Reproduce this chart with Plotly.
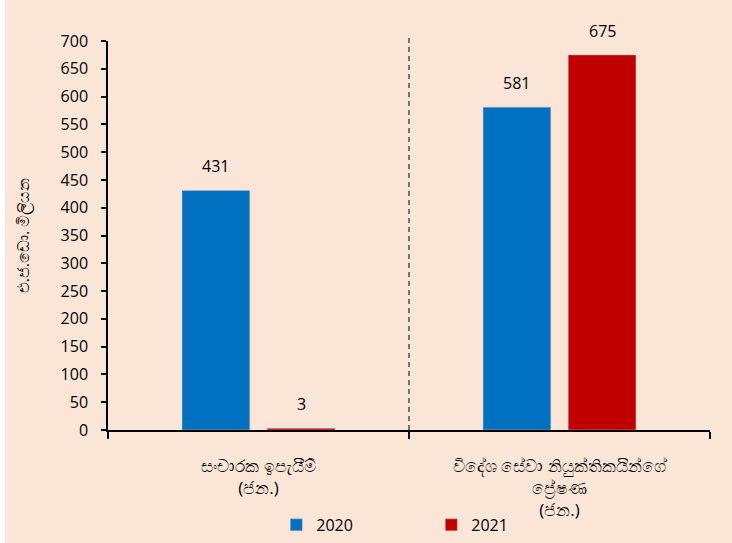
import plotly.graph_objects as go

categories = ["සංචාරක ඉපැයීම්<br>(ජන.)", "විදේශ සේවා නියුක්තිකයින්ගේ<br>ප්‍රේෂණ<br>(ජන.)"]
values_2020 = [431, 581]
values_2021 = [3, 675]
y_title = "එ.ජ.ඩො. මිලියන"

W, H = 732, 543
ml, mr, mt, mb = 108, 22, 41, 113
bg = "#FBE5D6"
font_family = "Open Sans, Noto Sans, sans-serif"

fig = go.Figure()
fig.add_trace(go.Bar(name="2020", x=categories, y=values_2020,
                     marker=dict(color="#0070C0", line=dict(color="#BFBFBF", width=0.5))))
fig.add_trace(go.Bar(name="2021", x=categories, y=values_2021,
                     marker=dict(color="#C00000", line=dict(color="#BFBFBF", width=0.5))))

# data labels above the bars
for shift, vals in ((-42.75, values_2020), (42.75, values_2021)):
    for c, v in zip(categories, vals):
        fig.add_annotation(x=c, y=v, text=str(v), showarrow=False, xshift=shift, yshift=24,
                           font=dict(size=16, color="black"))

pw = W - ml - mr
ph = H - mt - mb
# thin white strips at top and left of the page
fig.add_shape(type="rect", xref="paper", yref="paper",
              x0=-ml / pw, x1=(W - ml) / pw, y0=(H - mt - 5) / ph, y1=(H - mt + 2) / ph,
              fillcolor="white", line=dict(width=0), layer="below")
fig.add_shape(type="rect", xref="paper", yref="paper",
              x0=(-ml - 2) / pw, x1=(5 - ml) / pw, y0=(-mb - 2) / ph, y1=(H - mt + 2) / ph,
              fillcolor="white", line=dict(width=0), layer="below")
# dashed divider
fig.add_shape(type="line", xref="x", yref="paper", x0=0.5, x1=0.5, y0=0, y1=1.008,
              line=dict(color="black", width=1, dash="5px,4px"))

fig.update_layout(
    width=W, height=H,
    margin=dict(l=ml, r=mr, t=mt, b=mb, autoexpand=False),
    paper_bgcolor=bg, plot_bgcolor=bg,
    barmode="group", bargap=0.434, bargroupgap=0.205,
    font=dict(family=font_family, size=16, color="black"),
    showlegend=True,
    legend=dict(orientation="h", x=0.537, xanchor="center", y=-0.244, yanchor="middle",
                font=dict(size=16), entrywidth=110, bgcolor="rgba(0,0,0,0)"),
    xaxis=dict(showline=True, linecolor="black", linewidth=1.5, ticks="outside",
               tickson="boundaries", ticklen=7, tickwidth=1.5, tickcolor="black",
               tickfont=dict(size=17), showgrid=False, range=[-0.5, 1.5],
               ticklabelstandoff=20),
    yaxis=dict(range=[0, 700], dtick=50, showline=True, linecolor="black", linewidth=1.5,
               ticks="outside", ticklen=5, tickwidth=1.5, tickcolor="black", showgrid=False,
               zeroline=False, tickfont=dict(size=16), ticklabelstandoff=10,
               title=dict(text=y_title, font=dict(size=16), standoff=27)),
)

fig.write_html("out.html", config={"displayModeBar": False},
               post_script="document.body.style.margin='0';")
